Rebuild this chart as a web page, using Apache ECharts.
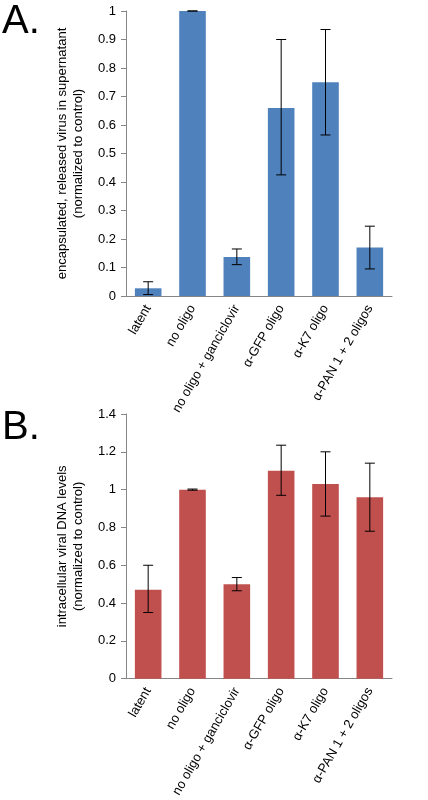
<!DOCTYPE html>
<html><head><meta charset="utf-8">
<script src="https://cdn.jsdelivr.net/npm/echarts@6/dist/echarts.min.js"></script>
<style>html,body{margin:0;background:#fff}#c{width:428px;height:800px}</style>
</head><body><div id="c"></div>
<script>
const categories = ["latent", "no oligo", "no oligo + ganciclovir", "α-GFP oligo", "α-K7 oligo", "α-PAN 1 + 2 oligos"];
const virusValues = [0.027, 1.0, 0.137, 0.66, 0.75, 0.17];
const virusLow = [0.005, 1.0, 0.11, 0.425, 0.565, 0.095];
const virusHigh = [0.05, 1.0, 0.165, 0.9, 0.935, 0.245];
const dnaValues = [0.47, 1.0, 0.5, 1.1, 1.03, 0.96];
const dnaLow = [0.35, 0.997, 0.465, 0.97, 0.86, 0.78];
const dnaHigh = [0.6, 1.003, 0.535, 1.235, 1.2, 1.14];

const font = "Liberation Sans, Arial, sans-serif";

// error bar drawn via custom series
function errRender(params, api) {
  const x = api.value(0), lo = api.coord([x, api.value(1)]), hi = api.coord([x, api.value(2)]);
  const w = 5;
  const st = { stroke: "#000", lineWidth: 1 };
  return { type: "group", children: [
    { type: "line", shape: { x1: lo[0], y1: lo[1], x2: hi[0], y2: hi[1] }, style: st },
    { type: "line", shape: { x1: lo[0] - w, y1: lo[1], x2: lo[0] + w, y2: lo[1] }, style: st },
    { type: "line", shape: { x1: hi[0] - w, y1: hi[1], x2: hi[0] + w, y2: hi[1] }, style: st }
  ]};
}

function xAxis(idx) {
  return { type: "category", gridIndex: idx, data: categories,
    axisLine: { lineStyle: { color: "#868686" } },
    axisTick: { lineStyle: { color: "#868686" } },
    axisLabel: { rotate: 60, color: "#000", fontFamily: font, fontSize: 13, interval: 0, margin: 10 } };
}
function yAxis(idx, max, interval, name) {
  return { type: "value", gridIndex: idx, min: 0, max: max, interval: interval,
    name: name, nameLocation: "middle", nameGap: 40,
    nameTextStyle: { color: "#000", fontFamily: font, fontSize: 13, lineHeight: 16 },
    splitLine: { show: false },
    axisLine: { show: true, lineStyle: { color: "#868686" } },
    axisTick: { show: true, lineStyle: { color: "#868686" } },
    axisLabel: { color: "#000", fontFamily: font, fontSize: 13, margin: 10 } };
}

const chart = echarts.init(document.getElementById("c"));
chart.setOption({
  animation: false,
  graphic: [
    { type: "text", left: 2, top: 2, style: { text: "A.", font: "40px " + font, fill: "#000" } },
    { type: "text", left: 2, top: 408, style: { text: "B.", font: "40px " + font, fill: "#000" } }
  ],
  grid: [
    { left: 126, right: 36, top: 11, height: 285 },
    { left: 126, right: 36, top: 414, height: 278 }
  ],
  xAxis: [xAxis(0), xAxis(1)],
  yAxis: [
    yAxis(0, 1, 0.1, "encapsulated, released virus in supernatant\n(normalized to control)"),
    yAxis(1, 1.4, 0.2, "intracellular viral DNA levels\n(normalized to control)")
  ],
  series: [
    { type: "bar", xAxisIndex: 0, yAxisIndex: 0, data: virusValues, barWidth: "60%", itemStyle: { color: "#4F81BD" } },
    { type: "custom", xAxisIndex: 0, yAxisIndex: 0, renderItem: errRender, z: 10,
      data: categories.map((c, i) => [i, virusLow[i], virusHigh[i]]) },
    { type: "bar", xAxisIndex: 1, yAxisIndex: 1, data: dnaValues, barWidth: "60%", itemStyle: { color: "#C0504D" } },
    { type: "custom", xAxisIndex: 1, yAxisIndex: 1, renderItem: errRender, z: 10,
      data: categories.map((c, i) => [i, dnaLow[i], dnaHigh[i]]) }
  ]
});
</script></body></html>
